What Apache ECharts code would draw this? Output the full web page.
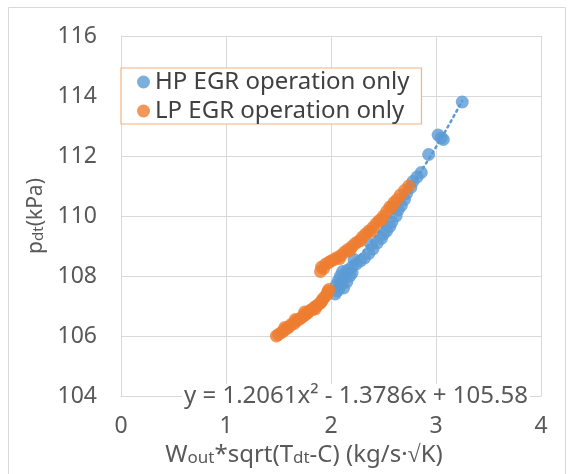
<!DOCTYPE html>
<html>
<head>
<meta charset="utf-8">
<script src="https://cdn.jsdelivr.net/npm/echarts@6/dist/echarts.min.js"></script>
<style>
html,body{margin:0;padding:0;background:#fff;}
#chart{width:568px;height:474px;}
</style>
</head>
<body>
<div id="chart"></div>
<script>
// ---- data ----
const hpX = [2.04,2.06,2.08,2.05,2.10,2.07,2.12,2.09,2.14,2.11,2.16,2.12,2.15,2.18,2.20,2.20,2.24,2.22,2.28,2.32,2.36,2.40,2.38,2.44,2.48,2.50,2.53,2.56,2.58,2.62,2.64,2.67,2.70,2.72,2.76,2.78,2.82,2.86,2.93,3.02,3.05,3.07,3.25];
const hpY = [107.40,107.50,107.60,107.70,107.75,107.85,107.90,108.00,108.05,108.15,108.20,107.60,107.80,108.00,108.10,108.30,108.40,108.55,108.50,108.60,108.75,108.90,109.05,109.10,109.25,109.40,109.50,109.65,109.80,110.00,110.20,110.35,110.55,110.75,110.95,111.15,111.30,111.45,112.05,112.70,112.60,112.55,113.80];
const lpX = [1.48,1.50,1.53,1.55,1.58,1.60,1.62,1.65,1.67,1.70,1.72,1.74,1.76,1.78,1.80,1.82,1.84,1.86,1.88,1.90,1.92,1.94,1.96,1.97,1.98,1.56,1.66,1.75,1.85,1.91,
             1.90,1.91,1.93,1.95,1.98,2.00,2.03,2.06,2.10,2.13,2.16,2.20,2.23,2.26,2.30,2.33,2.36,2.40,2.43,2.46,2.50,2.53,2.56,2.60,2.63,2.66,2.70,2.74,2.08,2.18,2.28,2.38,2.48,2.58];
const lpY = [106.00,106.05,106.12,106.18,106.25,106.30,106.38,106.42,106.50,106.56,106.62,106.68,106.72,106.78,106.85,106.88,106.95,107.00,107.05,107.10,107.22,107.30,107.38,107.48,107.55,106.28,106.55,106.80,106.90,107.15,
             108.15,108.30,108.25,108.40,108.45,108.50,108.55,108.62,108.70,108.80,108.88,108.98,109.08,109.15,109.30,109.40,109.50,109.62,109.75,109.85,110.00,110.15,110.30,110.45,110.55,110.70,110.85,111.00,108.58,108.85,109.18,109.48,109.88,110.30];
const seriesNames = ['HP EGR operation only', 'LP EGR operation only'];
const xTicks = [0, 1, 2, 3, 4];
const yTicks = [104, 106, 108, 110, 112, 114, 116];
// polynomial trendline of the HP series, as printed on the chart
const trendCoeffs = [1.2061, -1.3786, 105.58];
const trendLabel = 'y = 1.2061x² - 1.3786x + 105.58';

const BLUE = '#5B9BD5', ORANGE = '#ED7D31', GRID = '#d9d9d9', TXT = '#595959';
const FONT = 'Noto Sans';

const hpData = hpX.map((x, i) => [x, hpY[i]]);
const lpData = lpX.map((x, i) => [x, lpY[i]]);
const tMin = Math.min(...hpX), tMax = Math.max(...hpX);
const trendData = [];
for (let k = 0; k <= 60; k++) {
  const x = tMin + (tMax - tMin) * k / 60;
  trendData.push([x, trendCoeffs[0] * x * x + trendCoeffs[1] * x + trendCoeffs[2]]);
}

const chart = echarts.init(document.getElementById('chart'), null, {renderer: 'canvas'});
const xRich = {
  a: {fontSize: 24, color: TXT, fontFamily: FONT, verticalAlign: 'bottom'},
  s: {fontSize: 17, color: TXT, fontFamily: FONT, verticalAlign: 'bottom'}
};
const yRich = {
  a: {fontSize: 21, color: TXT, fontFamily: FONT, verticalAlign: 'bottom'},
  s: {fontSize: 15, color: TXT, fontFamily: FONT, verticalAlign: 'bottom'}
};
chart.setOption({
  animation: false,
  backgroundColor: '#fff',
  textStyle: {fontFamily: FONT},
  grid: {left: 121, right: 27, top: 36, bottom: 78, containLabel: false, outerBoundsMode: 'none'},
  xAxis: {
    type: 'value', min: xTicks[0], max: xTicks[xTicks.length - 1], interval: 1,
    axisLine: {show: true, lineStyle: {color: GRID, width: 1}},
    axisTick: {show: false},
    splitLine: {show: true, lineStyle: {color: GRID, width: 1}},
    axisLabel: {fontSize: 23, color: TXT, margin: 19, fontFamily: FONT},
    name: '{a|W}{s|out}{a|*sqrt(T}{s|dt}{a|-C) (kg/s·√K)}',
    nameLocation: 'middle', nameGap: 47,
    nameTextStyle: {rich: xRich, padding: [0, 54, 0, 0]}
  },
  yAxis: {
    type: 'value', min: yTicks[0], max: yTicks[yTicks.length - 1], interval: 2,
    axisLine: {show: true, lineStyle: {color: GRID, width: 1}},
    axisTick: {show: false},
    splitLine: {show: true, lineStyle: {color: GRID, width: 1}},
    axisLabel: {fontSize: 23, color: TXT, margin: 24, fontFamily: FONT},
    name: '{a|p}{s|dt}{a|(kPa)}',
    nameLocation: 'middle', nameRotate: 90, nameGap: 70,
    nameTextStyle: {rich: yRich}
  },
  legend: {
    orient: 'vertical', left: 121, top: 68,
    data: seriesNames.map(n => ({name: n, icon: 'circle'})),
    itemWidth: 13, itemHeight: 13, itemGap: 5,
    padding: [2, 12, 1, 16],
    backgroundColor: '#fff',
    borderColor: '#F4B183', borderWidth: 1.2, borderRadius: 0,
    textStyle: {fontSize: 24, color: '#404040', fontFamily: FONT}
  },
  series: [
    {name: seriesNames[0], type: 'scatter', data: hpData, symbol: 'circle', symbolSize: 13,
     itemStyle: {color: BLUE}, z: 2},
    {name: 'trend', type: 'line', data: trendData, showSymbol: false, symbol: 'none', smooth: false,
     lineStyle: {color: BLUE, width: 2.5, type: [2, 4], cap: 'round'}, z: 3, silent: true},
    {name: seriesNames[1], type: 'scatter', data: lpData, symbol: 'circle', symbolSize: 13,
     itemStyle: {color: ORANGE}, z: 4}
  ],
  graphic: [
    {type: 'rect', z: -10, silent: true,
     shape: {x: 8.5, y: 7.5, width: 557, height: 480},
     style: {fill: '#fff', stroke: GRID, lineWidth: 1}},
    {type: 'text', left: 182, top: 384, z: 100,
     style: {text: trendLabel, fontSize: 24, fill: TXT, fontFamily: FONT,
             backgroundColor: '#fff', padding: [0, 2, 0, 2]}}
  ]
});
</script>
</body>
</html>
